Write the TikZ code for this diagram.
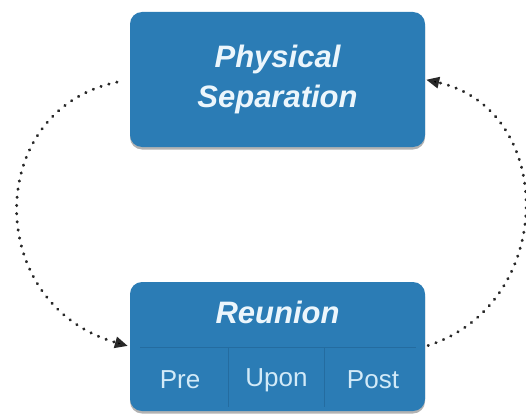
\documentclass[tikz,border=0pt]{standalone}
\usepackage{fontspec}
\setmainfont{Liberation Sans}
\usetikzlibrary{arrows.meta,shadows}

\definecolor{boxblue}{RGB}{43,124,181}
\definecolor{cellline}{RGB}{36,108,160}
\definecolor{titletext}{RGB}{236,246,252}
\definecolor{celltext}{RGB}{210,234,248}
\definecolor{dotgray}{RGB}{40,40,40}

\tikzset{
  stagebox/.style={draw=none, fill=boxblue, rounded corners=12pt,
    minimum width=295pt, inner sep=0pt,
    drop shadow={shadow xshift=0pt, shadow yshift=-2.5pt, fill=black, opacity=0.3}},
  titlefont/.style={text=titletext, align=center,
    font=\fontsize{31}{40}\selectfont\bfseries\itshape},
  cellfont/.style={text=celltext, font=\fontsize{26}{30}\selectfont},
  divider/.style={draw=cellline, line width=0.8pt},
  loopdots/.style={draw=dotgray, line width=3pt, line cap=round,
    dash pattern=on 0.4pt off 7.8pt,
    -{Triangle[length=13pt,width=11pt,fill=black]}}
}

\begin{document}
\begin{tikzpicture}[x=1pt,y=-1pt]
  \useasboundingbox (0,0) rectangle (526,417);

  % upper stage
  \node[stagebox, minimum height=135pt, titlefont] (sep) at (277.5,79.5)
    {Physical\\Separation};

  % lower stage with its three phases
  \node[stagebox, minimum height=129pt] (reu) at (277.5,346.5) {};
  \node[titlefont] (reunion) at (277.5,312) {Reunion};
  \draw[divider] (140,347) -- (416,347);
  \draw[divider] (228,347) -- (228,407);
  \draw[divider] (324,347) -- (324,407);
  \node[cellfont] (pre)  at (180,380) {Pre};
  \node[cellfont] (upon) at (276.5,380) {Upon};
  \node[cellfont] (post) at (373,380) {Post};

  % cycle between the two stages
  \draw[loopdots, shorten <=13pt, shorten >=2pt]
    (sep.west) .. controls +(-146,30) and +(-147,-42) .. (reu.west);
  \draw[loopdots, shorten <=3pt, shorten >=1pt]
    (reu.east) .. controls +(132,-43) and +(132,30) .. (sep.east);
\end{tikzpicture}
\end{document}
